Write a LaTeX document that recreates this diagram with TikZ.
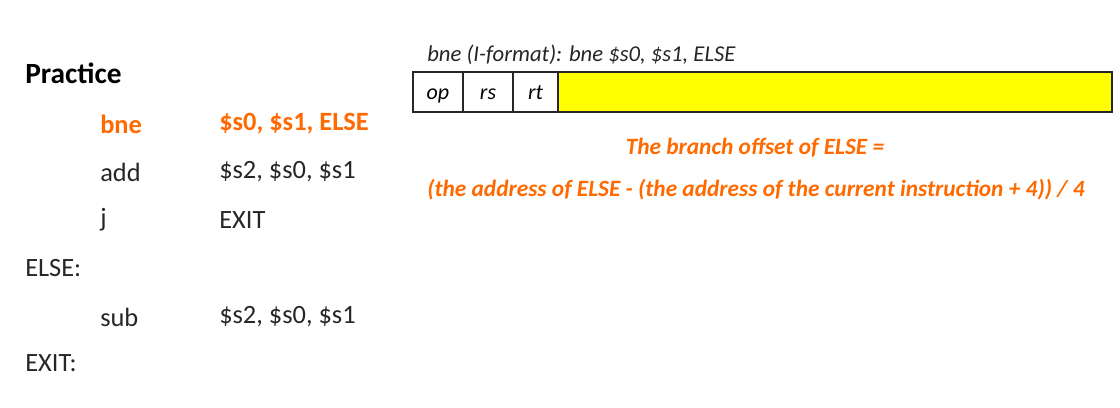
\documentclass[tikz,border=0pt]{standalone}
\usepackage{fontspec}
\setmainfont{Carlito}
\usetikzlibrary{positioning}
\definecolor{hiOrange}{HTML}{FF6A00}
\definecolor{fieldYellow}{HTML}{FFFF00}
\definecolor{textGray}{HTML}{262626}

\begin{document}
\begin{tikzpicture}[
    x=0.75pt, y=-0.75pt,
    code/.style={anchor=west, inner sep=0pt, text=textGray,
                 font=\fontsize{19.8}{23}\selectfont},
    hot/.style={code, text=hiOrange, font=\fontsize{19.8}{23}\selectfont\bfseries},
    cell/.style={draw=black!85, line width=0.9pt, outer sep=0pt, inner sep=0pt,
                 minimum height=30pt, text height=12pt, text depth=1pt,
                 font=\fontsize{16.5}{19}\selectfont\itshape},
    note/.style={inner sep=0pt, text=hiOrange,
                 font=\fontsize{17.5}{21}\selectfont\bfseries\itshape},
  ]
    \useasboundingbox (0,0) rectangle (1120,407);
    % program listing
    \node[code, text=black, font=\fontsize{22}{26}\selectfont\bfseries] (title)
      at (25,73) {Practice};
    \node[hot] (op1) at (100,124) {bne};
    \node[hot] (arg1) at (219,124) {\$s0, \$s1, ELSE};
    \node[code] (op2) at (100,172) {add};
    \node[code] (arg2) at (219,172) {\$s2, \$s0, \$s1};
    \node[code] (op3) at (100,220) {j};
    \node[code] (arg3) at (219,220) {EXIT};
    \node[code] (lblElse) at (25,268) {ELSE:};
    \node[code] (op4) at (100,317) {sub};
    \node[code] (arg4) at (219,317) {\$s2, \$s0, \$s1};
    \node[code] (lblExit) at (25,363) {EXIT:};
    % instruction format
    \node[anchor=west, inner sep=0pt, text=textGray,
          font=\fontsize{17}{20}\selectfont\itshape] (fmt)
      at (427,55) {bne (I-format): bne \$s0, \$s1, ELSE};
    \node[cell, minimum width=37.5pt, anchor=west] (fOp) at (413,92) {op};
    \node[cell, minimum width=37.5pt, right=0pt of fOp] (fRs) {rs};
    \node[cell, minimum width=33.75pt, right=0pt of fRs] (fRt) {rt};
    \node[cell, fill=fieldYellow, minimum width=415.5pt, right=0pt of fRt] (fImm) {};
    % offset formula
    \node[note] (noteA) at (755,148) {The branch offset of ELSE =};
    \node[note, anchor=west] (noteB) at (427,190)
      {(the address of ELSE - (the address of the current instruction + 4)) / 4};
  \end{tikzpicture}
\end{document}
